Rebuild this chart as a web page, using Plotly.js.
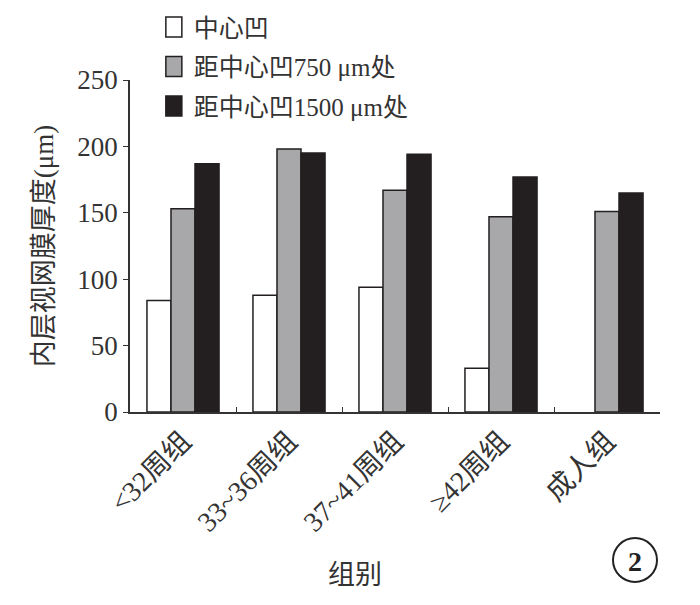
<!DOCTYPE html>
<html><head><meta charset="utf-8">
<script src="https://cdn.plot.ly/plotly-3.0.1.min.js"></script>
<style>body{margin:0;background:#fff}</style>
</head><body>
<div id="chart" style="width:700px;height:605px"></div>
<script>
const categories = ["<32周组", "33~36周组", "37~41周组", "≥42周组", "成人组"];
const seriesNames = ["中心凹", "距中心凹750 μm处", "距中心凹1500 μm处"];
const fovea = [84, 88, 94, 33, null];
const at750 = [153, 198, 167, 147, 151];
const at1500 = [187, 195, 194, 177, 165];
const yTicks = [0, 50, 100, 150, 200, 250];

const serif = "'Liberation Serif', 'Noto Sans CJK SC', serif";
const colors = ["#ffffff", "#a8a8aa", "#231f20"];
const data = [fovea, at750, at1500].map((vals, i) => ({
  type: "bar", x: categories, y: vals, name: seriesNames[i],
  legendgroup: "g" + i,
  marker: {color: colors[i], line: {color: "#231f20", width: 1.5}}
}));

const layout = {
  width: 700, height: 605,
  margin: {l: 130, r: 40, t: 80, b: 193, autoexpand: false},
  paper_bgcolor: "#fff", plot_bgcolor: "#fff",
  barmode: "group", bargap: 0.32, bargroupgap: 0,
  font: {family: serif, color: "#333", size: 24},
  showlegend: true,
  legend: {x: 0.045, y: 1.228, xanchor: "left", yanchor: "top",
    traceorder: "grouped", tracegroupgap: 4,
    font: {family: serif, size: 25, color: "#333"},
    bgcolor: "rgba(0,0,0,0)", itemwidth: 30},
  xaxis: {
    type: "category", showline: true, linecolor: "#333", linewidth: 1.5,
    ticks: "inside", ticklen: 5, tickcolor: "#333", tickson: "boundaries",
    tickangle: -45, tickfont: {family: serif, size: 28, color: "#333"},
    range: [-0.5, 4.5]
  },
  yaxis: {
    range: [0, 250], tickvals: yTicks, showline: true, linecolor: "#333", linewidth: 1.5,
    ticks: "outside", ticklen: 5, tickcolor: "#333", showgrid: false, zeroline: false,
    tickfont: {family: serif, size: 27, color: "#333"},
    title: {text: "内层视网膜厚度(μm)", font: {family: serif, size: 27, color: "#333"}, standoff: 16}
  },
  shapes: [{type: "circle", xref: "paper", yref: "paper",
    x0: (613-130)/530, x1: (657-130)/530, y0: (412-582)/332, y1: (412-538)/332,
    line: {color: "#222", width: 2}}],
  annotations: [
    {xref: "paper", yref: "paper", x: (355-130)/530, y: (412-575)/332,
     text: "组别", showarrow: false, font: {family: serif, size: 27, color: "#333"},
     xanchor: "center", yanchor: "middle"},
    {xref: "paper", yref: "paper", x: (635-130)/530, y: (412-561)/332,
     text: "<b>2</b>", showarrow: false, font: {family: "'Liberation Serif', serif", size: 28, color: "#222"},
     xanchor: "center", yanchor: "middle"}]
};
Plotly.newPlot("chart", data, layout, {displayModeBar: false}).then(gd => {
  gd.querySelectorAll(".legendpoints path").forEach(p => {
    p.setAttribute("d", "M-8,-10h16v20h-16Z");
  });
});
</script>
</body></html>
